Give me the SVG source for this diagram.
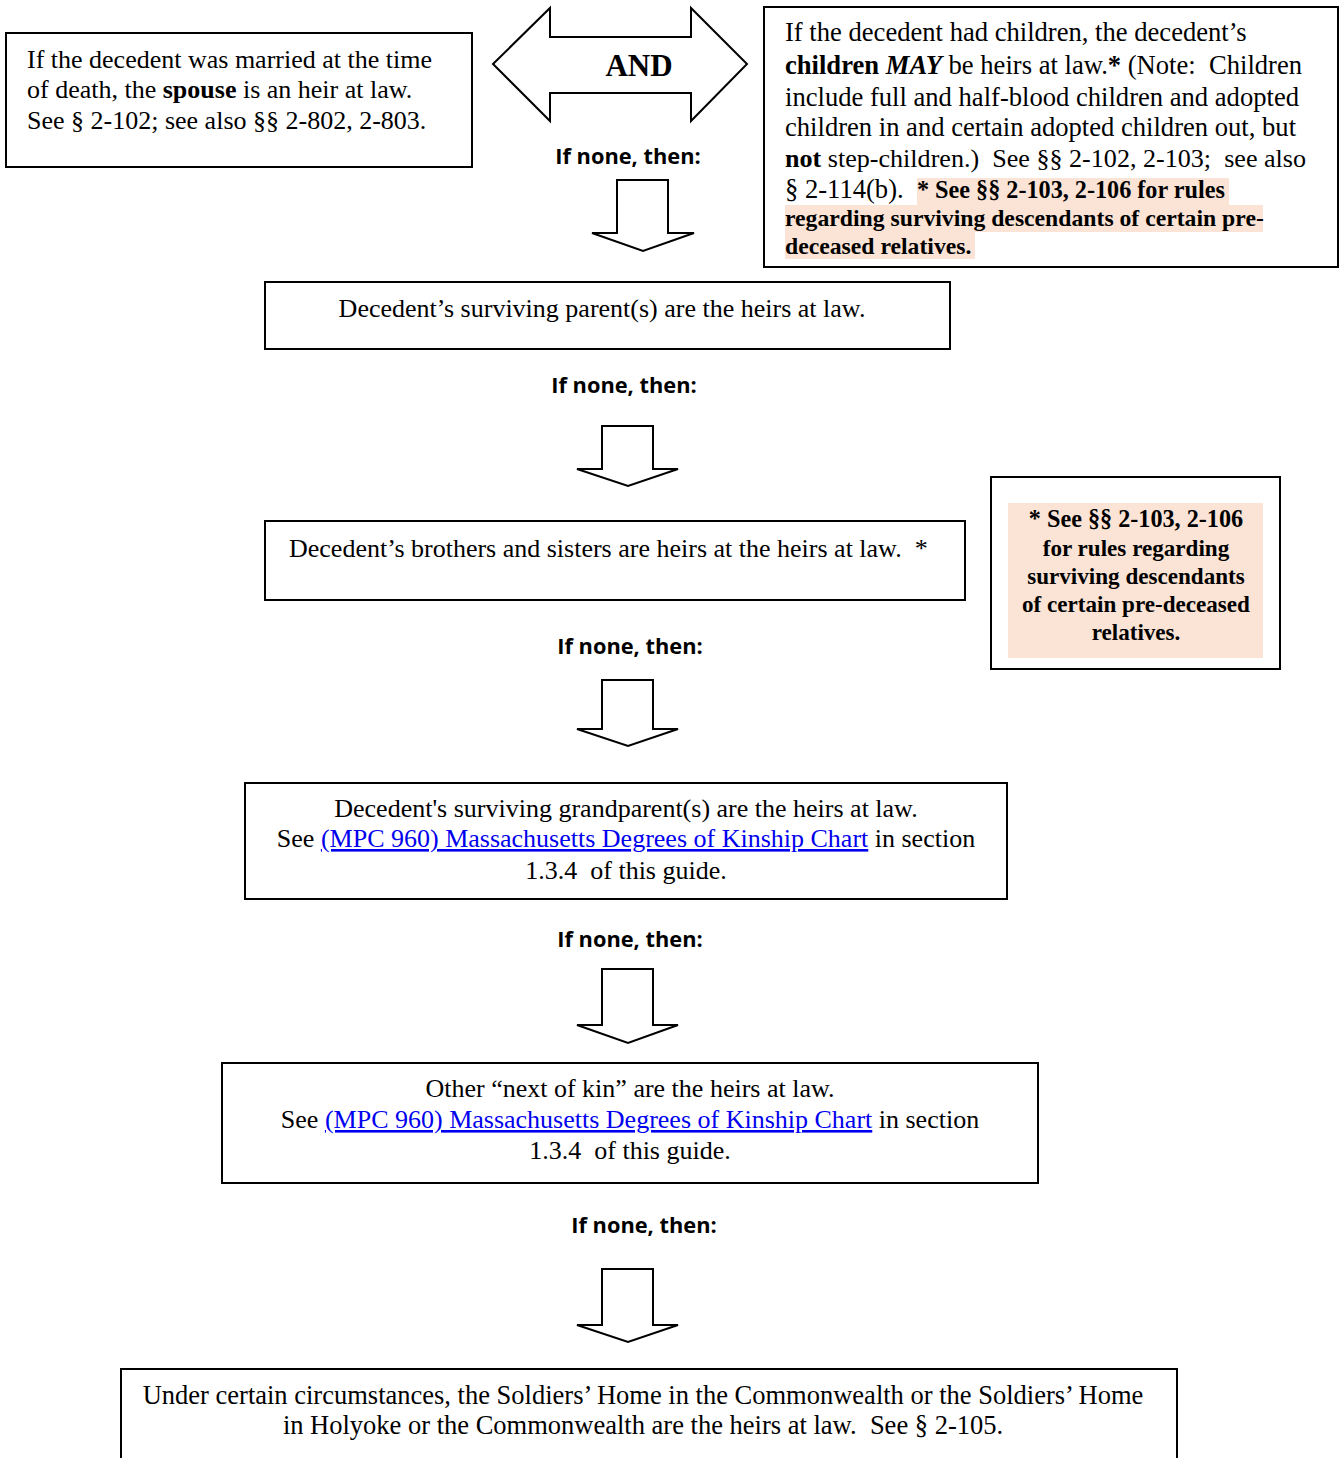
<svg xmlns="http://www.w3.org/2000/svg" width="1339" height="1458" viewBox="0 0 1339 1458">
<style>
.box{fill:#fff;stroke:#000;stroke-width:2}
.arr{fill:#fff;stroke:#000;stroke-width:2;stroke-linejoin:miter}
.t{font-family:"Liberation Serif","Times New Roman",serif;font-size:26px;fill:#000}
.c{text-anchor:middle}
.b{font-weight:bold}
.hb{font-family:"Liberation Serif","Times New Roman",serif;font-size:23.7px;font-weight:bold;fill:#000}
.lbl{font-family:"Open Sans","Liberation Sans",sans-serif;font-size:21.8px;font-weight:bold;fill:#000;text-anchor:middle}
.lnk{fill:#0000EE;text-decoration:underline}
.hl{fill:#FBE4D5}
</style>
<rect width="1339" height="1458" fill="#fff"/>

<g id="spouse">
<rect class="box" x="6" y="33" width="466" height="134"/>
<text class="t"><tspan x="27" y="68">If the decedent was married at the time</tspan><tspan x="27" y="98">of death, the <tspan class="b">spouse</tspan> is an heir at law.</tspan><tspan x="27" y="129">See § 2-102; see also §§ 2-802, 2-803.</tspan></text>
</g>

<g id="children">
<rect class="box" x="764" y="7" width="574" height="260"/>
<rect class="hl" x="917" y="178" width="312" height="27"/>
<rect class="hl" x="785" y="205" width="478" height="27"/>
<rect class="hl" x="785" y="232" width="190" height="27"/>
<text class="t" style="font-size:26.6px" xml:space="preserve"><tspan x="785" y="41">If the decedent had children, the decedent’s</tspan><tspan x="785" y="74"><tspan class="b">children </tspan><tspan class="b" font-style="italic">MAY</tspan> be heirs at law.<tspan class="b">*</tspan> (Note:  Children</tspan><tspan x="785" y="106">include full and half-blood children and adopted</tspan><tspan x="785" y="136">children in and certain adopted children out, but</tspan><tspan x="785" y="167" style="font-size:26.1px"><tspan class="b">not</tspan> step-children.)  See §§ 2-102, 2-103;  see also</tspan><tspan x="785" y="198">§ 2-114(b).  <tspan class="b" style="font-size:24.2px">* See §§ 2-103, 2-106 for rules</tspan></tspan></text>
<text class="hb"><tspan x="785" y="226">regarding surviving descendants of certain pre-</tspan><tspan x="785" y="254">deceased relatives.</tspan></text>
</g>

<g id="parents">
<rect class="box" x="265" y="282" width="685" height="67"/>
<text class="t c" x="602" y="317">Decedent’s surviving parent(s) are the heirs at law.</text>
</g>

<g id="siblings">
<rect class="box" x="265" y="521" width="700" height="79"/>
<text class="t" x="289" y="557" xml:space="preserve">Decedent’s brothers and sisters are heirs at the heirs at law.  *</text>
</g>

<g id="note">
<rect class="box" x="991" y="477" width="289" height="192"/>
<rect class="hl" x="1008" y="503" width="255" height="155"/>
<text class="hb c" style="font-size:23.1px"><tspan x="1136" y="527" style="font-size:24.2px">* See §§ 2-103, 2-106</tspan><tspan x="1136" y="556">for rules regarding</tspan><tspan x="1136" y="584">surviving descendants</tspan><tspan x="1136" y="612">of certain pre-deceased</tspan><tspan x="1136" y="640">relatives.</tspan></text>
</g>

<g id="grandparents">
<rect class="box" x="245" y="783" width="762" height="116"/>
<text class="t c"><tspan x="626" y="817">Decedent's surviving grandparent(s) are the heirs at law.</tspan><tspan x="626" y="847">See <tspan class="lnk">(MPC 960) Massachusetts Degrees of Kinship Chart</tspan> in section</tspan><tspan x="626" y="879" xml:space="preserve">1.3.4  of this guide.</tspan></text>
</g>

<g id="nextofkin">
<rect class="box" x="222" y="1063" width="816" height="120"/>
<text class="t c"><tspan x="630" y="1097">Other “next of kin” are the heirs at law.</tspan><tspan x="630" y="1128">See <tspan class="lnk">(MPC 960) Massachusetts Degrees of Kinship Chart</tspan> in section</tspan><tspan x="630" y="1159" xml:space="preserve">1.3.4  of this guide.</tspan></text>
</g>

<g id="soldiers">
<rect class="box" x="121" y="1369" width="1056" height="100"/>
<text class="t c" style="font-size:26.5px" xml:space="preserve"><tspan x="643" y="1404">Under certain circumstances, the Soldiers’ Home in the Commonwealth or the Soldiers’ Home</tspan><tspan x="643" y="1434">in Holyoke or the Commonwealth are the heirs at law.  See § 2-105.</tspan></text>
</g>

<g id="connectors">
<g id="and-arrow">
<polygon class="arr" points="493,64 550,8 550,37 691,37 691,8 747,64 691,121 691,93 550,93 550,121"/>
<text class="t b c" x="639" y="76" style="font-size:31px">AND</text>
</g>
<text class="lbl" x="628" y="164">If none, then:</text>
<polygon class="arr" points="617,180 668,180 668,233 694,233 643,251 592,233 617,233"/>
<text class="lbl" x="624" y="393">If none, then:</text>
<polygon class="arr" points="602,426 653,426 653,469 678,469 628,486 577,469 602,469"/>
<text class="lbl" x="630" y="654">If none, then:</text>
<polygon class="arr" points="602,680 653,680 653,729 678,729 628,746 577,729 602,729"/>
<text class="lbl" x="630" y="947">If none, then:</text>
<polygon class="arr" points="602,969 653,969 653,1025 678,1025 628,1043 577,1025 602,1025"/>
<text class="lbl" x="644" y="1233">If none, then:</text>
<polygon class="arr" points="602,1269 653,1269 653,1325 678,1325 628,1342 577,1325 602,1325"/>
</g>
</svg>
